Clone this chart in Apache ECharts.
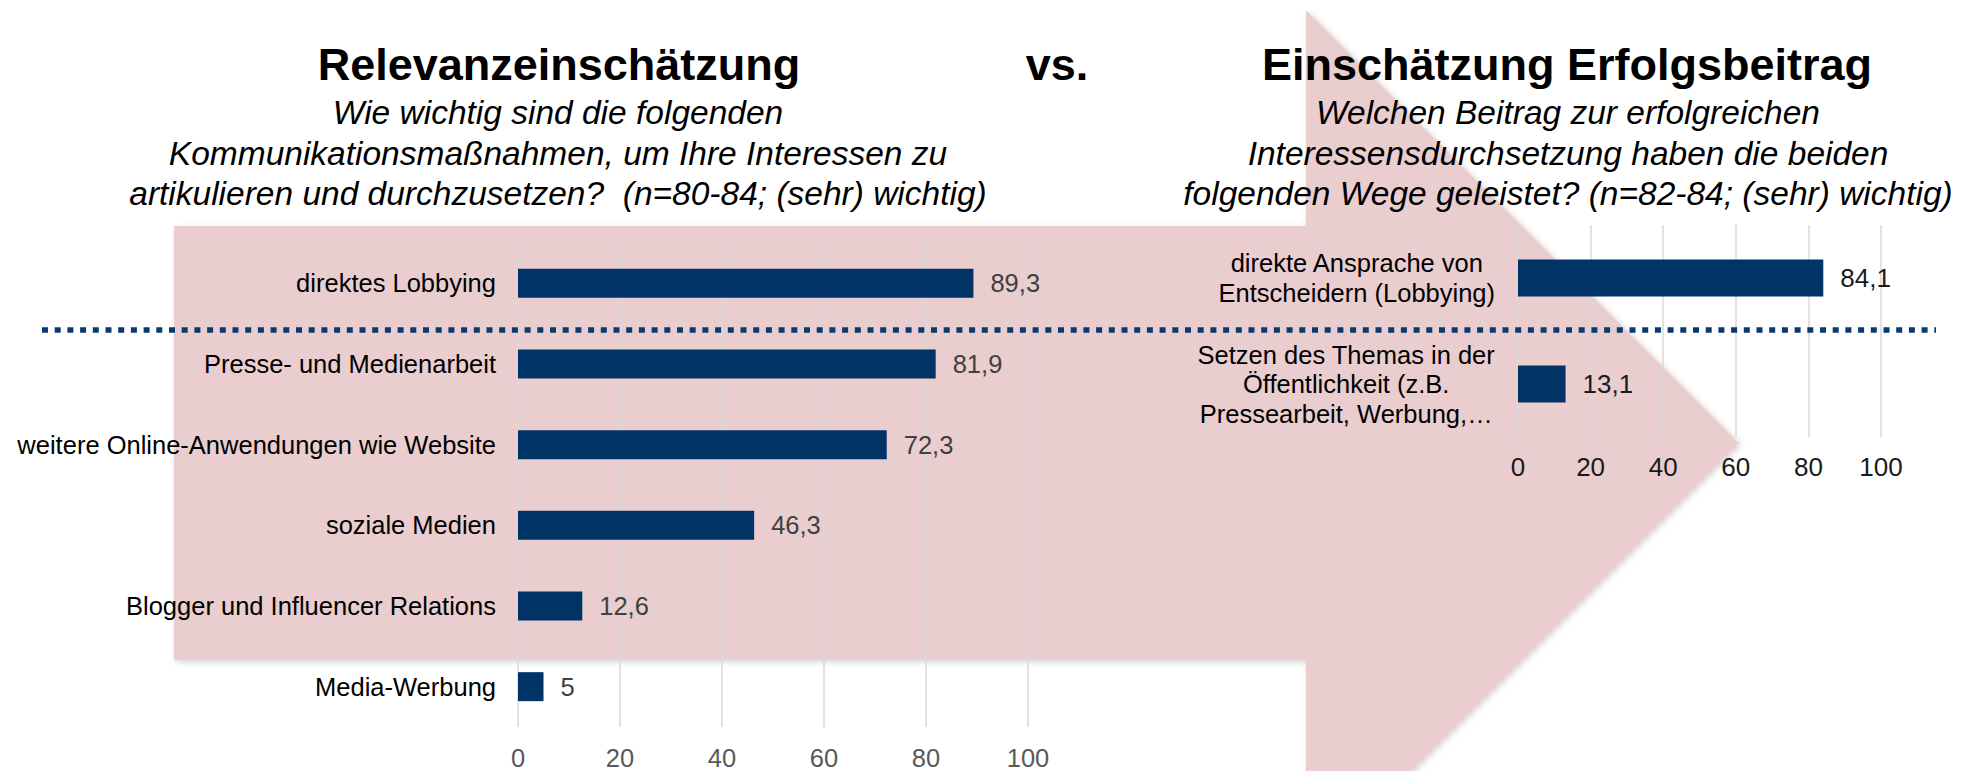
<!DOCTYPE html>
<html>
<head>
<meta charset="utf-8">
<title>Relevanzeinschätzung vs. Einschätzung Erfolgsbeitrag</title>
<script src="https://cdn.jsdelivr.net/npm/echarts@6/dist/echarts.min.js"></script>
<style>
    html, body { margin: 0; padding: 0; background: #fff; }
    #chart { width: 1977px; height: 771px; }
</style>
</head>
<body>
<div id="chart"></div>
<script>
'use strict';

// linke Grafik: Relevanzeinschätzung (in %)
var leftCategories = [
    'direktes Lobbying',
    'Presse- und Medienarbeit',
    'weitere Online-Anwendungen wie Website',
    'soziale Medien',
    'Blogger und Influencer Relations',
    'Media-Werbung'
];
var leftValues = [89.3, 81.9, 72.3, 46.3, 12.6, 5];

// rechte Grafik: Einschätzung Erfolgsbeitrag (in %)
var rightCategories = [
    'direkte Ansprache von\nEntscheidern (Lobbying)',
    'Setzen des Themas in der\nÖffentlichkeit (z.B.\nPressearbeit, Werbung,…'
];
var rightValues = [84.1, 13.1];

var axisTicks = [0, 20, 40, 60, 80, 100];

var headLeft = 'Relevanzeinschätzung';
var headMiddle = 'vs.';
var headRight = 'Einschätzung Erfolgsbeitrag';
var questionLeft = [
    'Wie wichtig sind die folgenden',
    'Kommunikationsmaßnahmen, um Ihre Interessen zu',
    'artikulieren und durchzusetzen?  (n=80-84; (sehr) wichtig)'
];
var questionRight = [
    'Welchen Beitrag zur erfolgreichen',
    'Interessensdurchsetzung haben die beiden',
    'folgenden Wege geleistet? (n=82-84; (sehr) wichtig)'
];

var FONT = '"Liberation Sans", Arial, Helvetica, sans-serif';
var NAVY = '#003366';

function toComma(p) {
    return String(p.value).replace('.', ',');
}

// mehrzeilige Beschriftung: Block rechtsbündig, Zeilen zentriert
function centeredLines(value) {
    return value.split('\n').map(function (line) {
        return '{c|' + line + '}';
    }).join('\n');
}

function headText(text, x) {
    return {
        type: 'text', z: 5,
        style: {
            text: text, x: x, y: 64,
            textAlign: 'center', textVerticalAlign: 'middle',
            font: 'bold 45px ' + FONT, fill: '#000'
        }
    };
}

function questionTexts(lines, x) {
    return lines.map(function (line, i) {
        return {
            type: 'text', z: 5,
            style: {
                text: line, x: x, y: 112.5 + i * 40.5,
                textAlign: 'center', textVerticalAlign: 'middle',
                font: 'italic 33.5px ' + FONT, fill: '#000'
            }
        };
    });
}

var graphics = [
    // großer Pfeil im Hintergrund
    {
        type: 'polygon', z: -10,
        shape: {
            points: [[174, 226], [1306, 226], [1306, 10], [1739, 443],
                     [1306, 876], [1306, 660], [174, 660]]
        },
        style: {
            fill: '#e9cdcf',
            shadowBlur: 6,
            shadowOffsetX: 2,
            shadowOffsetY: 2,
            shadowColor: 'rgba(0,0,0,0.18)'
        }
    },
    // gepunktete Trennlinie
    {
        type: 'line', z: 10,
        shape: { x1: 42, y1: 330, x2: 1936, y2: 330 },
        style: { stroke: '#083a70', lineWidth: 5.5, lineDash: [6, 6.7] }
    },
    headText(headLeft, 559),
    headText(headMiddle, 1057),
    headText(headRight, 1567)
].concat(questionTexts(questionLeft, 558), questionTexts(questionRight, 1568));

function valueAxis(gridIndex, labelColor, fontSize, margin) {
    return {
        type: 'value',
        gridIndex: gridIndex,
        min: axisTicks[0],
        max: axisTicks[axisTicks.length - 1],
        interval: axisTicks[1] - axisTicks[0],
        axisLine: { show: false },
        axisTick: { show: false },
        splitLine: { show: true, lineStyle: { color: '#d9d9d9', width: 1.5 } },
        axisLabel: { color: labelColor, fontSize: fontSize, fontFamily: FONT, margin: margin }
    };
}

var chart = echarts.init(document.getElementById('chart'), null, { renderer: 'svg' });

var option = {
    animation: false,
    backgroundColor: '#fff',
    graphic: graphics,
    grid: [
        { left: 518, top: 243, width: 510, height: 486 },
        { left: 1518, top: 225, width: 363, height: 212 }
    ],
    xAxis: [
        valueAxis(0, '#595959', 25.5, 18),
        valueAxis(1, '#1a1a1a', 26, 17)
    ],
    yAxis: [
        {
            type: 'category', gridIndex: 0, inverse: true,
            data: leftCategories,
            axisLine: { show: false },
            axisTick: { show: false },
            axisLabel: { color: '#000', fontSize: 25.5, fontFamily: FONT, margin: 22 }
        },
        {
            type: 'category', gridIndex: 1, inverse: true,
            data: rightCategories,
            axisLine: { show: false },
            axisTick: { show: false },
            axisLabel: {
                color: '#000', fontSize: 25.5, fontFamily: FONT,
                align: 'right', margin: 23,
                formatter: centeredLines,
                rich: {
                    c: {
                        align: 'center', fontSize: 25.5, lineHeight: 29.5,
                        fontFamily: FONT, color: '#000'
                    }
                }
            }
        }
    ],
    series: [
        {
            type: 'bar', xAxisIndex: 0, yAxisIndex: 0,
            data: leftValues,
            barWidth: 29,
            itemStyle: { color: NAVY },
            label: {
                show: true, position: 'right', distance: 17,
                formatter: toComma, color: '#404040', fontSize: 25.5, fontFamily: FONT
            }
        },
        {
            type: 'bar', xAxisIndex: 1, yAxisIndex: 1,
            data: rightValues,
            barWidth: 37,
            itemStyle: { color: NAVY },
            label: {
                show: true, position: 'right', distance: 17,
                formatter: toComma, color: '#1a1a1a', fontSize: 26, fontFamily: FONT
            }
        }
    ]
};

chart.setOption(option);
</script>
</body>
</html>
